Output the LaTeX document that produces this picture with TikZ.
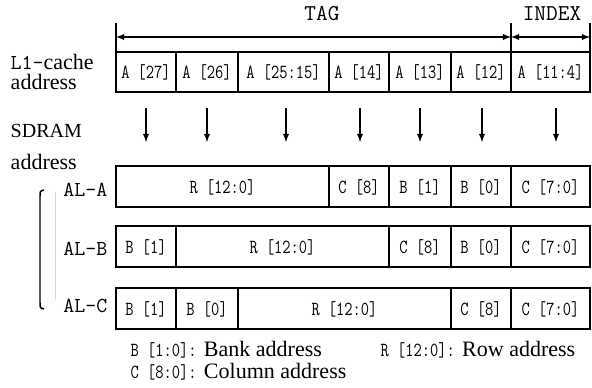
\documentclass[tikz,border=0pt]{standalone}
\usepackage{fontspec}
\setmainfont{Liberation Serif}
\newfontfamily\monofont{Latin Modern Mono}
\newfontfamily\cellfont[FakeStretch=0.8]{Latin Modern Mono}
\begin{document}
\begin{tikzpicture}[x=0.75pt,y=-0.75pt,line width=1.1pt,>=latex,
	cell/.style={font=\cellfont\fontsize{15}{17}\selectfont,inner sep=0pt},
	lab/.style={font=\monofont\fontsize{16}{18}\selectfont,inner sep=0pt},
	txt/.style={font=\fontsize{16.5}{18}\selectfont,inner sep=0pt}]
	\useasboundingbox (0,0) rectangle (592,388);
	% TAG / INDEX span
	\foreach \x in {116,511,590}
	\draw (\x,23) -- (\x,52);
	\coordinate (tagl) at (116,37);
	\coordinate (tagr) at (511,37);
	\coordinate (idxr) at (590,37);
	\draw[<->] (tagl) -- (tagr);
	\draw[<->] (tagr) -- (idxr);
	\node[lab,font=\monofont\fontsize{17}{18}\selectfont] (tag) at (322,14) {TAG};
	\node[lab,font=\monofont\fontsize{17}{18}\selectfont] (index) at (552,14) {INDEX};
	% L1-cache address
	\node[txt,anchor=west] (l1) at (10,62) {{\monofont\fontsize{16}{18}\selectfont L1-}cache};
	\node[txt,anchor=west] (l1b) at (10,82) {address};
	\draw (116,52) rectangle (590,92);
	\foreach \x in {176,238,329,389,451,511}
	\draw (\x,52) -- (\x,92);
	\foreach \a/\b/\t [count=\i] in {116/176/{A [27]},176/238/{A [26]},238/329/{A [25:15]},
		329/389/{A [14]},389/451/{A [13]},451/511/{A [12]},511/590/{A [11:4]}}
	\node[cell] (a\i) at ({(\a+\b)/2},72) {\t};
	% mapping arrows
	\foreach \x [count=\i] in {146,207,286,360,420,482,556}{
		\coordinate (s\i) at (\x,108);
		\coordinate (e\i) at (\x,142);
		\draw[->] (s\i) -- (e\i);
	}
	% SDRAM address
	\node[txt,anchor=west,font=\fontsize{15}{18}\selectfont] (sd) at (10,131) {SDRAM};
	\node[txt,anchor=west] (sdb) at (10,162) {address};
	\node[lab,anchor=east] (ala) at (108,190) {AL-A};
	\node[lab,anchor=east] (alb) at (108,249) {AL-B};
	\node[lab,anchor=east] (alc) at (108,306) {AL-C};
	% AL-A
	\draw (116,166) rectangle (590,207);
	\foreach \x in {329,389,451,511}
	\draw (\x,166) -- (\x,207);
	\foreach \a/\b/\t [count=\i] in {116/329/{R [12:0]},329/389/{C [8]},389/451/{B [1]},
		451/511/{B [0]},511/590/{C [7:0]}}
	\node[cell] (ra\i) at ({(\a+\b)/2},187) {\t};
	% AL-B
	\draw (116,226) rectangle (590,267);
	\foreach \x in {176,389,451,511}
	\draw (\x,226) -- (\x,267);
	\foreach \a/\b/\t [count=\i] in {116/176/{B [1]},176/389/{R [12:0]},389/451/{C [8]},
		451/511/{B [0]},511/590/{C [7:0]}}
	\node[cell] (rb\i) at ({(\a+\b)/2},247) {\t};
	% AL-C
	\draw (116,288) rectangle (590,329);
	\foreach \x in {176,238,451,511}
	\draw (\x,288) -- (\x,329);
	\foreach \a/\b/\t [count=\i] in {116/176/{B [1]},176/238/{B [0]},238/451/{R [12:0]},
		451/511/{C [8]},511/590/{C [7:0]}}
	\node[cell] (rc\i) at ({(\a+\b)/2},309) {\t};
	% bracket
	\draw (44,190) .. controls (40,191) .. (40,197) -- (40,302) .. controls (40,308) .. (44,309);
	\draw[black!15,line width=0.4pt] (55,192) -- (55,300);
	% legend
	\node[txt,anchor=west] (lgb) at (130,350) {{\cellfont\fontsize{15}{17}\selectfont B [1:0]:} Bank address};
	\node[txt,anchor=west] (lgr) at (380,350) {{\cellfont\fontsize{15}{17}\selectfont R [12:0]:} Row address};
	\node[txt,anchor=west] (lgc) at (130,372) {{\cellfont\fontsize{15}{17}\selectfont C [8:0]:} Column address};
\end{tikzpicture}
\end{document}
